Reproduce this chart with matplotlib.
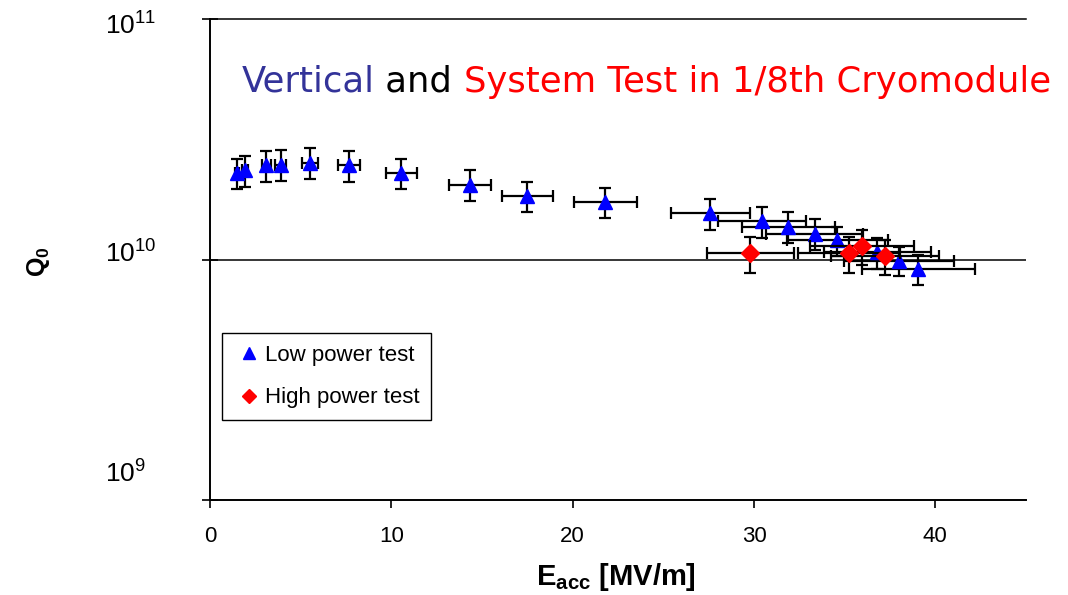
import matplotlib
matplotlib.use('Agg')
import matplotlib.pyplot as plt
from matplotlib.lines import Line2D
from matplotlib.ticker import NullLocator
from matplotlib.offsetbox import TextArea, HPacker, AnchoredOffsetbox

plt.rcParams['font.family'] = ['Liberation Sans', 'DejaVu Sans']
plt.rcParams['mathtext.fontset'] = 'custom'
plt.rcParams['mathtext.rm'] = 'Liberation Sans'
plt.rcParams['mathtext.it'] = 'Liberation Sans:italic'
plt.rcParams['mathtext.bf'] = 'Liberation Sans:bold'

# ---- data ----
low_e = [1.5, 1.95, 3.1, 3.9, 5.5, 7.65, 10.55, 14.35, 17.5, 21.8,
         27.6, 30.45, 31.9, 33.35, 34.6, 36.8, 38.0, 39.05]
low_q = [2.30e10, 2.35e10, 2.46e10, 2.48e10, 2.53e10, 2.47e10, 2.30e10, 2.05e10,
         1.84e10, 1.74e10, 1.56e10, 1.44e10, 1.37e10, 1.28e10, 1.20e10, 1.07e10,
         0.99e10, 0.91e10]
low_e_err = [0.12, 0.16, 0.25, 0.31, 0.44, 0.61, 0.84, 1.15, 1.4, 1.74,
             2.2, 2.44, 2.55, 2.67, 2.77, 2.94, 3.04, 3.12]
low_q_err = [0.33e10, 0.34e10, 0.36e10, 0.36e10, 0.37e10, 0.36e10, 0.33e10, 0.30e10,
             0.27e10, 0.25e10, 0.23e10, 0.21e10, 0.20e10, 0.19e10, 0.17e10, 0.16e10,
             0.14e10, 0.13e10]

high_e = [29.8, 35.25, 35.95, 37.2]
high_q = [1.06e10, 1.06e10, 1.14e10, 1.03e10]
high_e_err = [2.38, 2.82, 2.88, 2.98]
high_q_err = [0.18e10, 0.18e10, 0.19e10, 0.17e10]

x_ticks = [0, 10, 20, 30, 40]
y_ticks = [1e9, 1e10, 1e11]
y_tick_labels = ['$10^{9}$', '$10^{10}$', '$10^{11}$']
# baseline offsets (pixels) of the y tick labels relative to their tick, as in the reference
y_label_dy = [17, -3, -16]

title_parts = [('Vertical', '#333399'), (' and ', 'black'),
               ('System Test in 1/8th Cryomodule', '#ff0000')]

# ---- figure ----
fig = plt.figure(figsize=(10.68, 5.95), dpi=100)
ax = fig.add_axes([210/1068, 1 - 500/595, 816/1068, 481/595])

ax.set_yscale('log')
ax.set_xlim(0, 45)
ax.set_ylim(1e9, 1e11)

ax.errorbar(low_e, low_q, xerr=low_e_err, yerr=low_q_err, fmt='none',
            ecolor='black', elinewidth=1.6, capsize=4, capthick=1.6, zorder=2)
ax.plot(low_e, low_q, linestyle='none', marker='^', color='#0000ff',
        markersize=10, zorder=3)
ax.errorbar(high_e, high_q, xerr=high_e_err, yerr=high_q_err, fmt='none',
            ecolor='black', elinewidth=1.6, capsize=4, capthick=1.6, zorder=4)
ax.plot(high_e, high_q, linestyle='none', marker='D', color='#ff0000',
        markersize=9, zorder=5)

ax.axhline(1e10, color='black', lw=1.1, zorder=1)

ax.set_xticks(x_ticks)
ax.set_xticklabels([str(v) for v in x_ticks])
ax.set_yticks(y_ticks)
ax.set_yticklabels([''] * len(y_ticks))
ax.yaxis.set_minor_locator(NullLocator())

ax.tick_params(axis='x', direction='out', length=6, width=1.2, pad=13,
               labelsize=16)
ax.tick_params(axis='y', direction='inout', length=12, width=1.2)

# y tick labels: left-aligned column, as in the reference
for val, lab, dy in zip(y_ticks, y_tick_labels, y_label_dy):
    ax.annotate(lab, xy=(0, val), xycoords=('axes fraction', 'data'),
                xytext=(-105, dy), textcoords='offset pixels',
                ha='left', va='baseline', fontsize=19, annotation_clip=False)

ax.spines['right'].set_visible(False)
for s in ['left', 'bottom']:
    ax.spines[s].set_linewidth(1.4)
ax.spines['top'].set_linewidth(1.1)

handles = [Line2D([], [], linestyle='none', marker='^', color='#0000ff', markersize=8),
           Line2D([], [], linestyle='none', marker='D', color='#ff0000', markersize=7)]
leg = ax.legend(handles, ['Low power test', 'High power test'],
                loc='upper left', bbox_to_anchor=(12/816, 167/481),
                borderaxespad=0, fancybox=False, edgecolor='black',
                framealpha=1, fontsize=16, labelspacing=0.97,
                handlelength=1.35, handletextpad=0.05, borderpad=0.53)
leg.get_frame().set_linewidth(1.0)

# title with coloured parts
boxes = [TextArea(t, textprops=dict(color=c, fontsize=25.5, family='DejaVu Sans'))
         for t, c in title_parts]
pack = HPacker(children=boxes, align='baseline', pad=0, sep=0)
anch = AnchoredOffsetbox(loc='center', child=pack, pad=0, frameon=False,
                         bbox_to_anchor=(646/1068, 1 - 82/595),
                         bbox_transform=fig.transFigure, borderpad=0)
fig.add_artist(anch)

fig.text(38/1068, 1 - 262/595, r'$\mathbf{Q_0}$', rotation=90,
         ha='center', va='center', fontsize=18)
fig.text(616/1068, 1 - 577/595, r'$\mathbf{E_{acc}}$ [MV/m]',
         ha='center', va='center', fontsize=21, fontweight='bold')

fig.savefig('out.png', dpi=100, facecolor='white')
